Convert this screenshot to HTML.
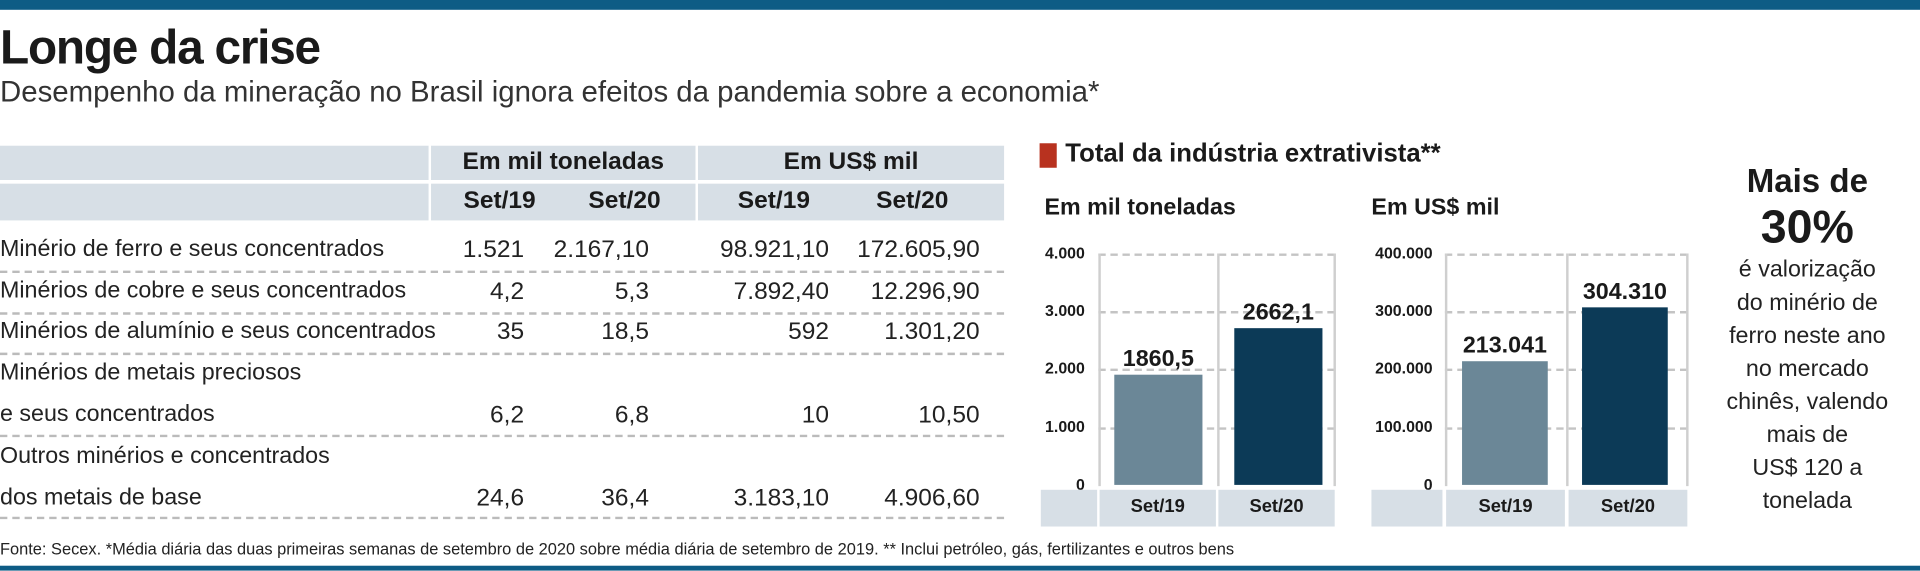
<!DOCTYPE html>
<html><head><meta charset="utf-8"><style>
html,body{margin:0;padding:0;background:#fff;width:1920px;height:570px;overflow:hidden}
#s{position:absolute;left:0;top:0;width:1568px;height:466px;transform:scale(1.22449);transform-origin:0 0;font-family:"Liberation Sans Narrow","Liberation Sans",sans-serif;color:#1a1a1a}
.a{position:absolute;white-space:nowrap}
.b{font-weight:bold}
.g{position:absolute;background:#d7dfe6}
.dl{position:absolute;height:0;border-top:2px dashed #bbb}
.r{text-align:right}
.c{text-align:center}
.yl{position:absolute;font-size:13px;font-weight:bold;text-align:right;width:60px}
.gl{position:absolute;height:0;border-top:2px dashed #c4c4c4}
.vl{position:absolute;width:0;border-left:2px solid #cfcfcf}
</style></head><body><div id="s">
<div class="a" style="left:0;top:0;width:1568px;height:8px;background:#0e5c85"></div>
<div class="a" style="left:0;top:462px;width:1568px;height:4px;background:#0e5c85"></div>
<div class="a b" style="left:0;top:18px;font-size:39px;letter-spacing:-1px">Longe da crise</div>
<div class="a" style="left:0;top:62px;font-size:24px;color:#333">Desempenho da mineração no Brasil ignora efeitos da pandemia sobre a economia*</div>

<div class="g" style="left:0;top:119px;width:350px;height:28px"></div>
<div class="g" style="left:352px;top:119px;width:216px;height:28px"></div>
<div class="g" style="left:570px;top:119px;width:250px;height:28px"></div>
<div class="g" style="left:0;top:150px;width:350px;height:30px"></div>
<div class="g" style="left:352px;top:150px;width:216px;height:30px"></div>
<div class="g" style="left:570px;top:150px;width:250px;height:30px"></div>
<div class="a b c" style="left:352px;top:121px;width:216px;font-size:20px">Em mil toneladas</div>
<div class="a b c" style="left:570px;top:121px;width:250px;font-size:20px">Em US$ mil</div>
<div class="a b c" style="left:370px;top:153px;width:76px;font-size:20px">Set/19</div>
<div class="a b c" style="left:472px;top:153px;width:76px;font-size:20px">Set/20</div>
<div class="a b c" style="left:594px;top:153px;width:76px;font-size:20px">Set/19</div>
<div class="a b c" style="left:707px;top:153px;width:76px;font-size:20px">Set/20</div>

<div style="position:absolute;left:0;top:0;font-size:20px;color:#222">
<div class="a" style="left:0;top:193px;font-size:19px">Minério de ferro e seus concentrados</div>
<div class="a r" style="left:328px;top:193px;width:100px">1.521</div>
<div class="a r" style="left:430px;top:193px;width:100px">2.167,10</div>
<div class="a r" style="left:577px;top:193px;width:100px">98.921,10</div>
<div class="a r" style="left:700px;top:193px;width:100px">172.605,90</div>
<div class="a" style="left:0;top:227px;font-size:19px">Minérios de cobre e seus concentrados</div>
<div class="a r" style="left:328px;top:227px;width:100px">4,2</div>
<div class="a r" style="left:430px;top:227px;width:100px">5,3</div>
<div class="a r" style="left:577px;top:227px;width:100px">7.892,40</div>
<div class="a r" style="left:700px;top:227px;width:100px">12.296,90</div>
<div class="a" style="left:0;top:260px;font-size:19px">Minérios de alumínio e seus concentrados</div>
<div class="a r" style="left:328px;top:260px;width:100px">35</div>
<div class="a r" style="left:430px;top:260px;width:100px">18,5</div>
<div class="a r" style="left:577px;top:260px;width:100px">592</div>
<div class="a r" style="left:700px;top:260px;width:100px">1.301,20</div>
<div class="a" style="left:0;top:294px;font-size:19px">Minérios de metais preciosos</div>
<div class="a" style="left:0;top:328px;font-size:19px">e seus concentrados</div>
<div class="a r" style="left:328px;top:328px;width:100px">6,2</div>
<div class="a r" style="left:430px;top:328px;width:100px">6,8</div>
<div class="a r" style="left:577px;top:328px;width:100px">10</div>
<div class="a r" style="left:700px;top:328px;width:100px">10,50</div>
<div class="a" style="left:0;top:362px;font-size:19px">Outros minérios e concentrados</div>
<div class="a" style="left:0;top:396px;font-size:19px">dos metais de base</div>
<div class="a r" style="left:328px;top:396px;width:100px">24,6</div>
<div class="a r" style="left:430px;top:396px;width:100px">36,4</div>
<div class="a r" style="left:577px;top:396px;width:100px">3.183,10</div>
<div class="a r" style="left:700px;top:396px;width:100px">4.906,60</div>
</div>
<div class="dl" style="left:0;top:221px;width:820px"></div>
<div class="dl" style="left:0;top:255px;width:820px"></div>
<div class="dl" style="left:0;top:288px;width:820px"></div>
<div class="dl" style="left:0;top:355px;width:820px"></div>
<div class="dl" style="left:0;top:422px;width:820px"></div>
<div class="a" style="left:0;top:441px;font-size:13.4px;color:#222">Fonte: Secex. *Média diária das duas primeiras semanas de setembro de 2020 sobre média diária de setembro de 2019. ** Inclui petróleo, gás, fertilizantes e outros bens</div>

<div class="a" style="left:849px;top:117px;width:14px;height:20px;background:#b8321f"></div>
<div class="a b" style="left:870px;top:114px;font-size:21px">Total da indústria extrativista**</div>
<div class="a b" style="left:853px;top:159px;font-size:19px">Em mil toneladas</div>
<div class="a b" style="left:1120px;top:159px;font-size:19px">Em US$ mil</div>

<div class="gl" style="left:897px;top:207px;width:193px"></div>
<div class="gl" style="left:897px;top:254px;width:193px"></div>
<div class="gl" style="left:897px;top:301px;width:193px"></div>
<div class="gl" style="left:897px;top:349px;width:193px"></div>
<div class="vl" style="left:897px;top:207px;height:190px"></div>
<div class="vl" style="left:994px;top:207px;height:190px"></div>
<div class="vl" style="left:1089px;top:207px;height:190px"></div>
<div class="yl" style="left:826px;top:199px">4.000</div>
<div class="yl" style="left:826px;top:246px">3.000</div>
<div class="yl" style="left:826px;top:293px">2.000</div>
<div class="yl" style="left:826px;top:341px">1.000</div>
<div class="yl" style="left:826px;top:388px">0</div>
<div class="a" style="left:910px;top:306px;width:72px;height:90px;background:#6b8797"></div>
<div class="a" style="left:1008px;top:268px;width:72px;height:128px;background:#0c3a57"></div>
<div class="a b c" style="left:896px;top:283px;width:100px;font-size:19px">1860,5</div>
<div class="a b c" style="left:994px;top:245px;width:100px;font-size:19px">2662,1</div>
<div class="g" style="left:850px;top:400px;width:46px;height:30px"></div>
<div class="g" style="left:898px;top:400px;width:95px;height:30px"></div>
<div class="g" style="left:995px;top:400px;width:95px;height:30px"></div>
<div class="a b c" style="left:898px;top:405px;width:95px;font-size:15px">Set/19</div>
<div class="a b c" style="left:995px;top:405px;width:95px;font-size:15px">Set/20</div>

<div class="gl" style="left:1180px;top:207px;width:198px"></div>
<div class="gl" style="left:1180px;top:254px;width:198px"></div>
<div class="gl" style="left:1180px;top:301px;width:198px"></div>
<div class="gl" style="left:1180px;top:349px;width:198px"></div>
<div class="vl" style="left:1180px;top:207px;height:190px"></div>
<div class="vl" style="left:1279px;top:207px;height:190px"></div>
<div class="vl" style="left:1377px;top:207px;height:190px"></div>
<div class="yl" style="left:1110px;top:199px">400.000</div>
<div class="yl" style="left:1110px;top:246px">300.000</div>
<div class="yl" style="left:1110px;top:293px">200.000</div>
<div class="yl" style="left:1110px;top:341px">100.000</div>
<div class="yl" style="left:1110px;top:388px">0</div>
<div class="a" style="left:1194px;top:295px;width:70px;height:101px;background:#6b8797"></div>
<div class="a" style="left:1292px;top:251px;width:70px;height:145px;background:#0c3a57"></div>
<div class="a b c" style="left:1179px;top:272px;width:100px;font-size:19px">213.041</div>
<div class="a b c" style="left:1277px;top:228px;width:100px;font-size:19px">304.310</div>
<div class="g" style="left:1120px;top:400px;width:58px;height:30px"></div>
<div class="g" style="left:1181px;top:400px;width:97px;height:30px"></div>
<div class="g" style="left:1281px;top:400px;width:97px;height:30px"></div>
<div class="a b c" style="left:1181px;top:405px;width:97px;font-size:15px">Set/19</div>
<div class="a b c" style="left:1281px;top:405px;width:97px;font-size:15px">Set/20</div>

<div class="a b c" style="left:1396px;top:133px;width:160px;font-size:27px">Mais de</div>
<div class="a b c" style="left:1396px;top:165px;width:160px;font-size:38px">30%</div>
<div class="a c" style="left:1396px;top:207px;width:160px;font-size:19px;line-height:27px;color:#222;white-space:normal">é valorização<br>do minério de<br>ferro neste ano<br>no mercado<br>chinês, valendo<br>mais de<br>US$ 120 a<br>tonelada</div>
</div></body></html>
